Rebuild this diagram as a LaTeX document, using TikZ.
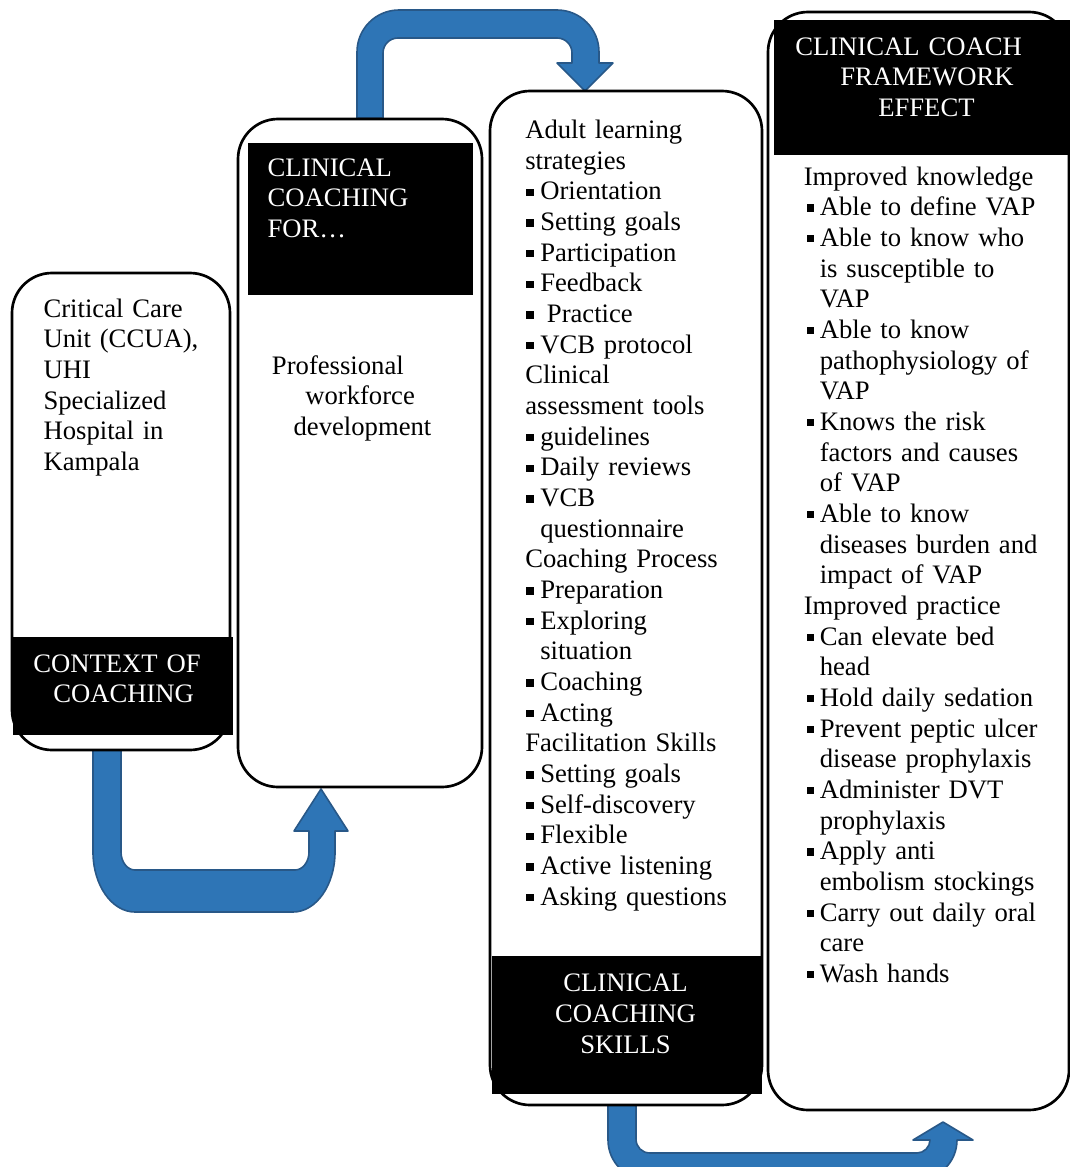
\documentclass[tikz,border=0pt]{standalone}
\usepackage{fontspec}
\setmainfont{Liberation Serif}
\definecolor{arrowfill}{RGB}{46,117,182}
\definecolor{arrowedge}{RGB}{40,88,136}
\newcommand\blA{\makebox[11.25pt][l]{\hspace*{0.75pt}\rule[3pt]{5.5pt}{5.5pt}}}
\newcommand\inA{\hspace*{11.25pt}}
\newcommand\blB{\makebox[12pt][l]{\hspace*{2.25pt}\rule[3pt]{5.5pt}{5.5pt}}}
\newcommand\inB{\hspace*{12pt}}
\tikzset{
  bigarrow/.style={fill=arrowfill, draw=arrowedge, line width=1.2pt, line join=round},
  stage/.style={draw=black, fill=white, line width=2pt, rounded corners=30pt, inner sep=0pt},
  label/.style={fill=black, draw=none, inner sep=0pt},
  txt/.style={inner sep=0pt, anchor=base west, text width=230pt, align=left,
    font=\fontsize{20pt}{23pt}\selectfont},
  wtxt/.style={txt, text=white},
}
\begin{document}
\begin{tikzpicture}[x=0.75pt, y=-0.75pt]
\useasboundingbox (0,0) rectangle (1070,1167);
\clip (0,0) rectangle (1070,1167);

% arrows
\draw[bigarrow] (357,118) -- (357,52) .. controls (357,28.8) and (375.8,10) .. (399,10)
  -- (557,10) .. controls (580.2,10) and (599,28.8) .. (599,52) -- (599,63) -- (613,63)
  -- (585,91) -- (557,63) -- (572,63) -- (572,53) .. controls (572,44.7) and (565.3,38) .. (557,38)
  -- (398,38) .. controls (389.7,38) and (383,44.7) .. (383,53) -- (383,118) -- cycle;
\draw[bigarrow] (93,748) -- (93,852) .. controls (93,885.1) and (111.8,912) .. (135,912)
  -- (293,912) .. controls (316.2,912) and (335,885.1) .. (335,852) -- (335,831) -- (348,831)
  -- (321,789) -- (294,831) -- (309,831) -- (309,852) .. controls (309,861.9) and (302.7,870) .. (295,870)
  -- (135,870) .. controls (127.3,870) and (121,861.9) .. (121,852) -- (121,748) -- cycle;
\draw[bigarrow] (608,1104) -- (608,1140) .. controls (608,1162) and (626,1180) .. (648,1180)
  -- (917,1180) .. controls (939,1180) and (957,1162) .. (957,1140) -- (973,1140)
  -- (943,1122) -- (913,1140) -- (930,1140) .. controls (930,1147) and (924,1153) .. (917,1153)
  -- (650,1153) .. controls (642,1153) and (636,1147) .. (636,1139) -- (636,1104) -- cycle;

% stage boxes
\node[stage, minimum width=163.5pt, minimum height=357.75pt] (b1) at (121,511.5) {};
\node[stage, minimum width=183pt, minimum height=501pt] (b2) at (360,453) {};
\node[stage, minimum width=204pt, minimum height=760.5pt] (b3) at (626,598) {};
\node[stage, minimum width=225.75pt, minimum height=823.5pt] (b4) at (918.5,561) {};

% black label bars
\node[label, minimum width=165pt, minimum height=73.5pt] (l1) at (123,686) {};
\node[label, minimum width=168.75pt, minimum height=114pt] (l2) at (360.5,219) {};
\node[label, minimum width=202.5pt, minimum height=103.5pt] (l3) at (626.5,1025) {};
\node[label, minimum width=223.5pt, minimum height=100.9pt] (l4) at (923,87.75) {};

% label texts
\node[wtxt] (l1t) at (33,672) {CONTEXT OF\\\hspace*{15pt}COACHING};
\node[wtxt] (l2t) at (267.3,176) {CLINICAL\\COACHING\\FOR…};
\node[wtxt, anchor=base, text width=200pt, align=center] (l3t) at (625.5,991.7) {CLINICAL\\COACHING\\SKILLS};
\node[wtxt] (l4t) at (795,55) {CLINICAL COACH\\\hspace*{33.75pt}FRAMEWORK\\\hspace*{62.25pt}EFFECT};

% body texts
\node[txt] (t1) at (43.3,317.3) {Critical Care\\Unit (CCUA),\\UHI\\Specialized\\Hospital in\\Kampala};
\node[txt] (t2) at (271.7,374.3) {Professional\\\hspace*{25pt}workforce\\\hspace*{16.25pt}development};
\node[txt] (t3) at (525,138.5) {Adult learning\\strategies\\
\blA Orientation\\\blA Setting goals\\\blA Participation\\\blA Feedback\\\blA\hspace*{5pt}Practice\\\blA VCB protocol\\
Clinical\\assessment tools\\
\blA guidelines\\\blA Daily reviews\\\blA VCB\\\inA questionnaire\\
Coaching Process\\
\blA Preparation\\\blA Exploring\\\inA situation\\\blA Coaching\\\blA Acting\\
Facilitation Skills\\
\blA Setting goals\\\blA Self-discovery\\\blA Flexible\\\blA Active listening\\\blA Asking questions};
\node[txt] (t4) at (803.5,185) {Improved knowledge\\
\blB Able to define VAP\\\blB Able to know who\\\inB is susceptible to\\\inB VAP\\
\blB Able to know\\\inB pathophysiology of\\\inB VAP\\
\blB Knows the risk\\\inB factors and causes\\\inB of VAP\\
\blB Able to know\\\inB diseases burden and\\\inB impact of VAP\\
Improved practice\\
\blB Can elevate bed\\\inB head\\\blB Hold daily sedation\\\blB Prevent peptic ulcer\\\inB disease prophylaxis\\
\blB Administer DVT\\\inB prophylaxis\\\blB Apply anti\\\inB embolism stockings\\
\blB Carry out daily oral\\\inB care\\\blB Wash hands};
\end{tikzpicture}
\end{document}
